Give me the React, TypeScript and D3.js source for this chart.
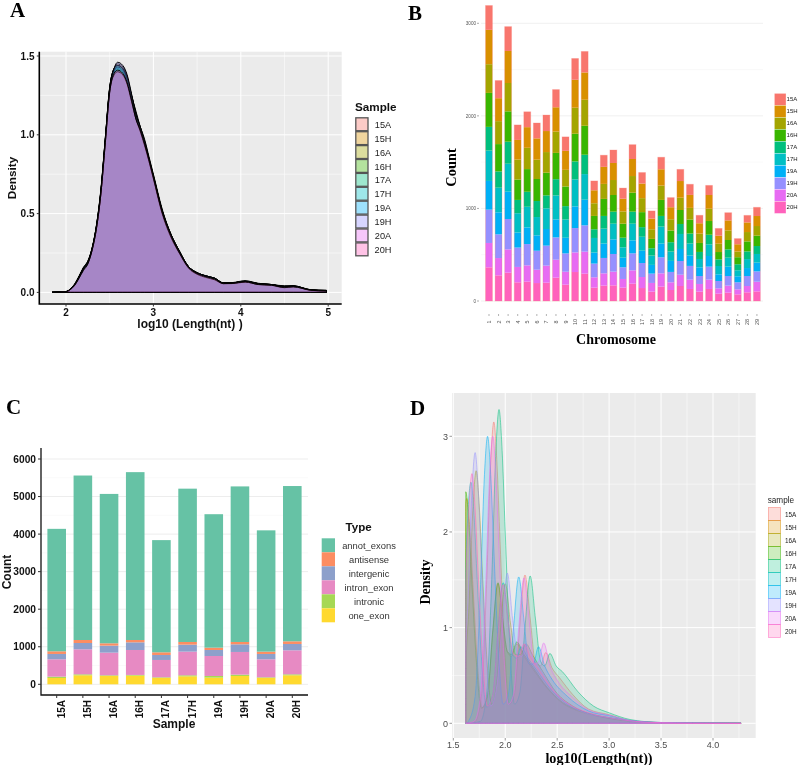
import React from "react";
import * as d3 from "d3";

const samples = ["15A","15H","16A","16H","17A","17H","19A","19H","20A","20H"];
const hue = ["#F8766D","#D89000","#A3A500","#39B600","#00BF7D","#00BFC4","#00B0F6","#9590FF","#E76BF3","#FF62BC"];

// Panel A
const aX = [1.84,2.0,2.05,2.1,2.15,2.2,2.25,2.3,2.35,2.4,2.45,2.5,2.55,2.59,2.65,2.7,2.75,2.8,2.85,2.9,2.95,3.0,3.1,3.2,3.3,3.4,3.5,3.6,3.7,3.8,3.9,4.05,4.2,4.35,4.5,4.6,4.8,4.98];
const a15A = [0,.005,.02,.05,.1,.155,.195,.28,.42,.64,.97,1.29,1.41,1.43,1.41,1.35,1.24,1.12,1.04,.95,.84,.74,.52,.37,.26,.165,.125,.105,.09,.06,.06,.07,.055,.05,.035,.04,.015,.01];
const a15H = [0,.005,.02,.05,.1,.15,.19,.28,.43,.65,.98,1.3,1.42,1.45,1.43,1.37,1.25,1.13,1.05,.97,.86,.75,.53,.37,.26,.16,.12,.1,.085,.06,.06,.068,.052,.048,.033,.038,.015,.012];
const a16A = [0,.004,.018,.048,.098,.15,.19,.275,.42,.64,.96,1.29,1.41,1.44,1.42,1.36,1.24,1.12,1.03,.95,.85,.74,.52,.365,.255,.16,.12,.1,.088,.058,.06,.072,.055,.05,.036,.04,.016,.012];
const a16H = [0,.005,.02,.052,.102,.155,.195,.285,.43,.65,.97,1.28,1.4,1.42,1.4,1.34,1.23,1.12,1.04,.94,.84,.73,.51,.36,.25,.165,.125,.105,.09,.06,.058,.07,.055,.048,.035,.04,.017,.01];
const a17A = [0,.006,.022,.055,.105,.16,.2,.285,.43,.66,.98,1.3,1.42,1.44,1.42,1.36,1.25,1.15,1.05,.95,.83,.73,.51,.36,.25,.16,.12,.1,.09,.06,.062,.074,.058,.05,.042,.042,.016,.01];
const a17H = [0,.005,.02,.05,.1,.155,.195,.28,.42,.64,.97,1.28,1.4,1.43,1.41,1.35,1.25,1.14,1.04,.94,.83,.73,.51,.36,.255,.165,.125,.105,.09,.06,.06,.07,.056,.05,.04,.042,.015,.012];
const a19A = [0,.005,.02,.05,.098,.15,.19,.28,.425,.65,.98,1.3,1.42,1.44,1.42,1.36,1.24,1.12,1.03,.94,.84,.73,.51,.36,.25,.16,.12,.102,.086,.058,.06,.07,.055,.05,.037,.041,.015,.014];
const a19H = [0,.004,.018,.046,.095,.15,.19,.275,.415,.63,.96,1.29,1.42,1.46,1.44,1.38,1.26,1.13,1.05,.96,.85,.74,.52,.37,.26,.165,.125,.105,.09,.06,.06,.07,.055,.05,.035,.04,.015,.012];
const a20A = [0,.005,.02,.05,.095,.145,.185,.27,.41,.63,.95,1.27,1.38,1.4,1.38,1.32,1.21,1.1,1.02,.93,.83,.72,.5,.35,.245,.155,.115,.095,.08,.055,.056,.065,.05,.045,.03,.035,.013,.008];
const a20H = [0,.005,.018,.045,.09,.14,.18,.27,.41,.63,.95,1.27,1.39,1.41,1.39,1.33,1.22,1.1,1.03,.94,.84,.73,.51,.36,.25,.16,.12,.1,.085,.056,.057,.067,.05,.046,.032,.036,.014,.009];
const aSeries = [a15A,a15H,a16A,a16H,a17A,a17H,a19A,a19H,a20A,a20H];

// Panel B
const chromosomes = ["1","2","3","4","5","6","7","8","9","10","11","12","13","14","15","16","17","18","19","20","21","22","23","24","25","26","27","28","29"];
const b15A = [263,191,263,162,166,166,173,191,151,230,227,101,126,140,115,155,119,83,130,104,126,115,86,104,79,83,61,76,94];
const b15H = [371,248,346,212,223,230,227,263,205,302,295,140,184,184,137,184,158,115,176,130,180,140,112,148,86,108,79,104,108];
const b16A = [310,248,306,216,230,209,223,230,180,281,281,137,162,162,133,180,151,104,155,122,133,126,101,133,90,104,61,101,104];
const b16H = [367,295,328,220,245,238,245,284,212,299,313,144,184,180,151,205,162,101,173,126,151,151,97,148,79,101,76,108,112];
const b17A = [256,176,238,144,162,173,140,176,144,194,209,94,137,130,104,130,104,79,115,101,108,108,76,104,72,90,65,83,86];
const b17H = [328,266,302,209,223,198,223,259,198,292,277,158,162,169,112,180,151,101,184,101,162,130,90,126,90,97,65,97,94];
const b19A = [310,238,295,162,180,166,180,194,169,234,277,119,155,158,104,140,133,94,148,119,130,112,94,115,72,101,65,86,94];
const b19H = [360,256,328,209,230,205,216,241,198,263,284,148,166,191,126,184,151,101,173,112,148,148,86,140,79,104,76,108,112];
const b20A = [263,187,252,166,176,144,184,194,140,212,238,112,133,148,94,144,119,94,144,83,122,101,83,101,58,76,54,68,104];
const b20H = [364,277,306,202,209,194,198,252,176,313,295,144,166,169,144,187,140,101,155,119,162,130,101,130,79,90,72,94,104];
const bSeries = [b15A,b15H,b16A,b16H,b17A,b17H,b19A,b19H,b20A,b20H];

// Panel C
const cTypes = ["annot_exons","antisense","intergenic","intron_exon","intronic","one_exon"];
const cColors = ["#66C2A5","#FC8D62","#8DA0CB","#E78AC3","#A6D854","#FFD92F"];
const annotExons = [3261,4380,3978,4470,2988,4083,3554,4143,3230,4135];
const antisense = [71,80,62,62,71,71,62,62,62,71];
const intergenic = [142,168,187,204,133,186,160,204,142,169];
const intronExon = [462,666,603,665,462,630,532,604,480,639];
const intronic = [35,26,18,18,17,27,44,35,17,26];
const oneExon = [169,240,222,231,169,213,178,222,169,240];
const cSeries = [annotExons,antisense,intergenic,intronExon,intronic,oneExon];

// Panel D
const d15Ax = [1.62,1.71,1.77,1.82,1.86,1.89,1.92,1.95,1.99,2.04,2.09,2.14,2.19,2.24,2.29,2.34,2.39,2.45,2.52,2.65,2.8,3.0,3.2,3.5,3.8,4.27];
const d15Ay = [0,.02,.28,1.45,2.72,3.15,2.72,1.9,.88,.2,.32,1.02,1.55,1.1,.64,.6,.74,.58,.48,.3,.15,.09,.03,.008,.003,0];
const d15Hx = [1.62,1.6201,1.63,1.66,1.69,1.73,1.78,1.83,1.88,1.93,1.98,2.02,2.06,2.11,2.18,2.27,2.4,2.55,2.7,2.85,3.0,3.2,3.5,3.8,4.27];
const d15Hy = [0,2.3,2.35,2.02,1.42,.66,.16,.28,.95,1.46,1.04,.75,.7,.83,.7,.56,.37,.21,.13,.085,.05,.022,.006,.002,0];
const d16Ax = [1.62,1.6201,1.65,1.69,1.72,1.75,1.78,1.82,1.87,1.92,1.96,2.0,2.05,2.10,2.15,2.2,2.26,2.35,2.5,2.65,2.8,3.0,3.2,3.5,3.8,4.27];
const d16Ay = [0,.5,1.2,2.27,2.64,2.27,1.58,.72,.2,.45,1.05,1.46,1.05,.72,.72,.83,.72,.56,.31,.18,.1,.06,.025,.007,.002,0];
const d16Hx = [1.62,1.6201,1.65,1.68,1.72,1.77,1.83,1.88,1.93,1.98,2.02,2.06,2.11,2.18,2.27,2.4,2.55,2.7,2.85,3.0,3.2,3.5,3.8,4.27];
const d16Hy = [0,2.42,2.08,1.45,.68,.16,.3,.97,1.47,1.05,.75,.72,.85,.72,.58,.38,.22,.14,.09,.055,.025,.006,.002,0];
const d17Ax = [1.62,1.76,1.82,1.87,1.91,1.94,1.97,2.0,2.04,2.09,2.14,2.19,2.24,2.29,2.34,2.38,2.43,2.49,2.55,2.7,2.85,3.0,3.2,3.5,3.8,4.27];
const d17Ay = [0,.02,.3,1.5,2.85,3.28,2.85,2.0,.9,.2,.32,1.0,1.54,1.1,.65,.6,.73,.6,.54,.33,.18,.11,.04,.008,.003,0];
const d17Hx = [1.62,1.6201,1.64,1.67,1.70,1.73,1.77,1.82,1.88,1.93,1.98,2.03,2.07,2.11,2.15,2.22,2.3,2.45,2.6,2.75,2.9,3.1,3.3,3.5,3.8,4.27];
const d17Hy = [0,1.5,2.17,2.52,2.17,1.5,.7,.17,.3,.97,1.47,1.05,.72,.68,.8,.68,.56,.34,.2,.12,.075,.04,.015,.006,.002,0];
const d19Ax = [1.62,1.65,1.71,1.76,1.80,1.83,1.86,1.89,1.93,1.98,2.03,2.08,2.13,2.18,2.23,2.27,2.32,2.38,2.45,2.6,2.8,3.0,3.2,3.5,3.8,4.27];
const d19Ay = [0,.03,.28,1.38,2.6,3.0,2.6,1.82,.85,.2,.3,1.0,1.53,1.08,.62,.62,.8,.6,.46,.28,.13,.08,.03,.009,.004,0];
const d19Hx = [1.62,1.6201,1.64,1.68,1.71,1.74,1.77,1.81,1.86,1.92,1.97,2.02,2.07,2.12,2.16,2.2,2.26,2.35,2.5,2.65,2.8,3.0,3.2,3.5,3.8,4.27];
const d19Hy = [0,.7,1.27,2.44,2.83,2.44,1.7,.8,.18,.4,1.05,1.57,1.1,.72,.7,.83,.7,.55,.3,.17,.1,.06,.025,.007,.002,0];
const d20Ax = [1.62,1.70,1.76,1.81,1.85,1.88,1.91,1.94,1.98,2.03,2.08,2.13,2.18,2.23,2.28,2.32,2.37,2.43,2.5,2.65,2.8,3.0,3.2,3.5,3.8,4.27];
const d20Ay = [0,.02,.27,1.38,2.6,3.0,2.6,1.82,.85,.2,.3,1.0,1.52,1.08,.62,.64,.84,.6,.45,.27,.14,.085,.03,.007,.002,0];
const d20Hx = [1.62,1.6201,1.65,1.68,1.71,1.74,1.78,1.83,1.88,1.93,1.98,2.03,2.08,2.13,2.18,2.24,2.33,2.45,2.6,2.75,2.9,3.1,3.3,3.5,3.8,4.27];
const d20Hy = [0,1.4,2.24,2.61,2.24,1.56,.72,.18,.3,.95,1.45,1.05,.72,.7,.83,.7,.55,.36,.21,.13,.08,.04,.015,.006,.002,0];
const dXs = [d15Ax,d15Hx,d16Ax,d16Hx,d17Ax,d17Hx,d19Ax,d19Hx,d20Ax,d20Hx];
const dYs = [d15Ay,d15Hy,d16Ay,d16Hy,d17Ay,d17Hy,d19Ay,d19Hy,d20Ay,d20Hy];

const SANS = "'Liberation Sans', Arial, sans-serif";
const SERIF = "'Liberation Serif', 'Times New Roman', serif";

const Letter = ({x,y,t}:{x:number;y:number;t:string}) => (
  <text x={x} y={y} fontFamily={SERIF} fontWeight="bold" fontSize={21} fill="#000">{t}</text>
);

function PanelA() {
  const x = d3.scaleLinear().domain([2,5]).range([66,328.2]);
  const y = d3.scaleLinear().domain([0,1.5]).range([292.4,56]);
  const L=39.3,R=341.7,T=51.7,B=304;
  const area = d3.area<number>().x((_,i)=>x(aX[i])).y0(y(0)).y1(d=>y(d)).curve(d3.curveMonotoneX);
  return <g fontFamily={SANS}>
    <rect x={L} y={T} width={R-L} height={B-T} fill="#EBEBEB"/>
    {[.25,.75,1.25].map(v=><line key={v} x1={L} x2={R} y1={y(v)} y2={y(v)} stroke="#fff" strokeWidth={.5}/>)}
    {[2.5,3.5,4.5].map(v=><line key={v} y1={T} y2={B} x1={x(v)} x2={x(v)} stroke="#fff" strokeWidth={.5}/>)}
    {[0,.5,1,1.5].map(v=><line key={v} x1={L} x2={R} y1={y(v)} y2={y(v)} stroke="#fff" strokeWidth={1}/>)}
    {[2,3,4,5].map(v=><line key={v} y1={T} y2={B} x1={x(v)} x2={x(v)} stroke="#fff" strokeWidth={1}/>)}
    {aSeries.map((s,i)=><path key={i} d={area(s)!} fill={hue[i]} fillOpacity={.3} stroke="#000" strokeWidth={1}/>)}
    <path d={`M${L},${T}V${B}H${R}`} fill="none" stroke="#000" strokeWidth={1.6}/>
    {[0,.5,1,1.5].map(v=><g key={v}>
      <line x1={L-2.5} x2={L} y1={y(v)} y2={y(v)} stroke="#333"/>
      <text x={34.5} y={y(v)+3.6} textAnchor="end" fontSize={10} fontWeight="bold" fill="#111">{v.toFixed(1)}</text></g>)}
    {[2,3,4,5].map(v=><g key={v}>
      <line y1={B} y2={B+2.5} x1={x(v)} x2={x(v)} stroke="#333"/>
      <text x={x(v)} y={316} textAnchor="middle" fontSize={10} fontWeight="bold" fill="#111">{v}</text></g>)}
    <text x={190} y={328} textAnchor="middle" fontSize={12} fontWeight="bold" fill="#111">log10 (Length(nt) )</text>
    <text transform="translate(16,178) rotate(-90)" textAnchor="middle" fontSize={11.8} fontWeight="bold" fill="#111">Density</text>
    <text x={355} y={110.7} fontSize={11.7} fontWeight="bold" fill="#111">Sample</text>
    {samples.map((s,i)=><g key={s}>
      <rect x={355.8} y={117.8+i*13.9} width={12.2} height={12.9} fill={hue[i]} fillOpacity={.38} stroke="#555" strokeWidth={1.3}/>
      <text x={383} y={127.8+i*13.9} textAnchor="middle" fontSize={9.2} fill="#222">{s}</text></g>)}
  </g>;
}

function PanelB() {
  const x = d3.scaleBand<string>().domain(chromosomes).range([484.2,761.7]).paddingInner(.28).paddingOuter(.14);
  const y = d3.scaleLinear().domain([0,3000]).range([301,23.3]);
  const rows = chromosomes.map((_,j)=>{const r:any={};samples.forEach((s,i)=>{r[s]=bSeries[i][j];});return r;});
  const stack = d3.stack<any>().keys([...samples].reverse())(rows);
  return <g fontFamily={SANS}>
    {[500,1500,2500].map(v=><line key={v} x1={481} x2={763} y1={y(v)} y2={y(v)} stroke="#f5f5f5" strokeWidth={.6}/>)}
    {[0,1000,2000,3000].map(v=><line key={v} x1={481} x2={763} y1={y(v)} y2={y(v)} stroke="#ececec" strokeWidth={.8}/>)}
    {stack.map(layer=>{const i=samples.indexOf(layer.key);return <g key={layer.key}>
      {layer.map((d,j)=><rect key={j} x={x(chromosomes[j])} y={y(d[1])} width={x.bandwidth()} height={y(d[0])-y(d[1])} fill={hue[i]}/>)}
    </g>;})}
    {stack[stack.length-1].map((d,j)=><rect key={j} x={x(chromosomes[j])} y={y(d[1])} width={x.bandwidth()} height={y(0)-y(d[1])} fill="none" stroke="#F8766D" strokeOpacity={.3} strokeWidth={.9}/>)}
    {[0,1000,2000,3000].map(v=><g key={v}>
      <line x1={477} x2={479} y1={y(v)} y2={y(v)} stroke="#555" strokeWidth={.5}/>
      <text x={476} y={y(v)+1.7} textAnchor="end" fontSize={4.6} fill="#555">{v}</text></g>)}
    {chromosomes.map(c=><g key={c}>
      <line x1={x(c)!+x.bandwidth()/2} x2={x(c)!+x.bandwidth()/2} y1={314} y2={316} stroke="#666" strokeWidth={.5}/>
      <text transform={`translate(${x(c)!+x.bandwidth()/2+2},322) rotate(-90)`} fontSize={5.4} textAnchor="middle" fill="#555">{c}</text></g>)}
    <text x={616} y={344} textAnchor="middle" fontFamily={SERIF} fontWeight="bold" fontSize={14}>Chromosome</text>
    <text transform="translate(456,167.5) rotate(-90)" textAnchor="middle" fontFamily={SERIF} fontWeight="bold" fontSize={14.4}>Count</text>
    {samples.map((s,i)=><g key={s}>
      <rect x={774.4} y={93.4+i*12} width={11.6} height={12} fill={hue[i]} stroke="#fff" strokeOpacity={.6} strokeWidth={.5}/>
      <text x={786.6} y={101.4+i*12} fontSize={6} fill="#222">{s}</text></g>)}
  </g>;
}

function PanelC() {
  const x = d3.scaleBand<string>().domain(samples).range([43.6,305.4]).paddingInner(.29).paddingOuter(.145);
  const y = d3.scaleLinear().domain([0,6000]).range([684.3,459]);
  const rows = samples.map((_,j)=>{const r:any={};cTypes.forEach((t,i)=>{r[t]=cSeries[i][j];});return r;});
  const stack = d3.stack<any>().keys([...cTypes].reverse())(rows);
  const L=41,R=308,Ba=695;
  return <g fontFamily={SANS}>
    {[500,1500,2500,3500,4500,5500].map(v=><line key={v} x1={L} x2={R} y1={y(v)} y2={y(v)} stroke="#f6f6f6" strokeWidth={.6}/>)}
    {[0,1000,2000,3000,4000,5000,6000].map(v=><line key={v} x1={L} x2={R} y1={y(v)} y2={y(v)} stroke="#ededed" strokeWidth={1}/>)}
    {stack.map(layer=>{const i=cTypes.indexOf(layer.key);return <g key={layer.key}>
      {layer.map((d,j)=><rect key={j} x={x(samples[j])} y={y(d[1])} width={x.bandwidth()} height={y(d[0])-y(d[1])} fill={cColors[i]}/>)}
    </g>;})}
    <path d={`M${L},448V${Ba}H${R}`} fill="none" stroke="#111" strokeWidth={1.3}/>
    {[0,1000,2000,3000,4000,5000,6000].map(v=><g key={v}>
      <line x1={L-3} x2={L} y1={y(v)} y2={y(v)} stroke="#333"/>
      <text x={36} y={y(v)+3.7} textAnchor="end" fontSize={10.2} fontWeight="bold" fill="#111">{v}</text></g>)}
    {samples.map(s=><g key={s}>
      <line x1={x(s)!+x.bandwidth()/2} x2={x(s)!+x.bandwidth()/2} y1={Ba} y2={Ba+3} stroke="#333"/>
      <text transform={`translate(${x(s)!+x.bandwidth()/2+8},700) rotate(-90)`} textAnchor="end" fontSize={10} fontWeight="bold" fill="#111">{s}</text></g>)}
    <text x={174} y={728} textAnchor="middle" fontSize={12} fontWeight="bold" fill="#111">Sample</text>
    <text transform="translate(11,572) rotate(-90)" textAnchor="middle" fontSize={12} fontWeight="bold" fill="#111">Count</text>
    <text x={345.5} y={531} fontSize={11.6} fontWeight="bold" fill="#111">Type</text>
    {cTypes.map((t,i)=><g key={t}>
      <rect x={321.7} y={538.3+i*14} width={13.3} height={14} fill={cColors[i]}/>
      <text x={369} y={549+i*14} textAnchor="middle" fontSize={9.4} fill="#333">{t}</text></g>)}
  </g>;
}

function PanelD() {
  const x = d3.scaleLinear().domain([1.5,4]).range([453.3,713]);
  const y = d3.scaleLinear().domain([0,3]).range([723.3,436.3]);
  const L=452,R=755.7,T=393,B=738;
  return <g fontFamily={SANS}>
    <rect x={L} y={T} width={R-L} height={B-T} fill="#EBEBEB"/>
    {[.5,1.5,2.5].map(v=><line key={v} x1={L} x2={R} y1={y(v)} y2={y(v)} stroke="#fff" strokeWidth={.5}/>)}
    {[1.75,2.25,2.75,3.25,3.75,4.25].map(v=><line key={v} y1={T} y2={B} x1={x(v)} x2={x(v)} stroke="#fff" strokeWidth={.5}/>)}
    {[0,1,2,3].map(v=><line key={v} x1={L} x2={R} y1={y(v)} y2={y(v)} stroke="#fff" strokeWidth={1}/>)}
    {[1.5,2,2.5,3,3.5,4].map(v=><line key={v} y1={T} y2={B} x1={x(v)} x2={x(v)} stroke="#fff" strokeWidth={1}/>)}
    {dYs.map((ys,i)=>{
      const xs=dXs[i];
      const a=d3.area<number>().x((_,k)=>x(xs[k])).y0(y(0)).y1(d=>y(d)).curve(d3.curveMonotoneX);
      return <path key={i} d={a(ys)!} fill={hue[i]} fillOpacity={.2} stroke={hue[i]} strokeOpacity={.65} strokeWidth={.8}/>;
    })}
    {[0,1,2,3].map(v=><g key={v}>
      <line x1={L-2.5} x2={L} y1={y(v)} y2={y(v)} stroke="#555" strokeWidth={.6}/>
      <text x={448} y={y(v)+3.2} textAnchor="end" fontSize={9} fill="#4D4D4D">{v}</text></g>)}
    {[1.5,2,2.5,3,3.5,4].map(v=><g key={v}>
      <line y1={B} y2={B+2.5} x1={x(v)} x2={x(v)} stroke="#555" strokeWidth={.6}/>
      <text x={x(v)} y={748} textAnchor="middle" fontSize={9} fill="#4D4D4D">{v.toFixed(1)}</text></g>)}
    <text x={599} y={762.5} textAnchor="middle" fontFamily={SERIF} fontWeight="bold" fontSize={14.2}>log10(Length(nt))</text>
    <text transform="translate(430,582) rotate(-90)" textAnchor="middle" fontFamily={SERIF} fontWeight="bold" fontSize={14}>Density</text>
    <text x={767.7} y={502.7} fontSize={8.2} fill="#222">sample</text>
    {samples.map((s,i)=><g key={s}>
      <rect x={768.5} y={507.5+i*13} width={12} height={13} fill={hue[i]} fillOpacity={.25} stroke={hue[i]} strokeOpacity={.6} strokeWidth={.8}/>
      <text x={785} y={516.5+i*13} fontSize={6.4} fill="#222">{s}</text></g>)}
  </g>;
}

export default function App() {
  return (
    <svg width={798} height={765} viewBox="0 0 798 765" style={{position:"absolute",left:0,top:0,background:"#fff",filter:"blur(0.35px)"}}>
      <Letter x={10} y={17} t="A"/>
      <Letter x={408} y={20} t="B"/>
      <Letter x={6} y={414} t="C"/>
      <Letter x={410} y={415} t="D"/>
      <PanelA/>
      <PanelB/>
      <PanelC/>
      <PanelD/>
    </svg>
  );
}
